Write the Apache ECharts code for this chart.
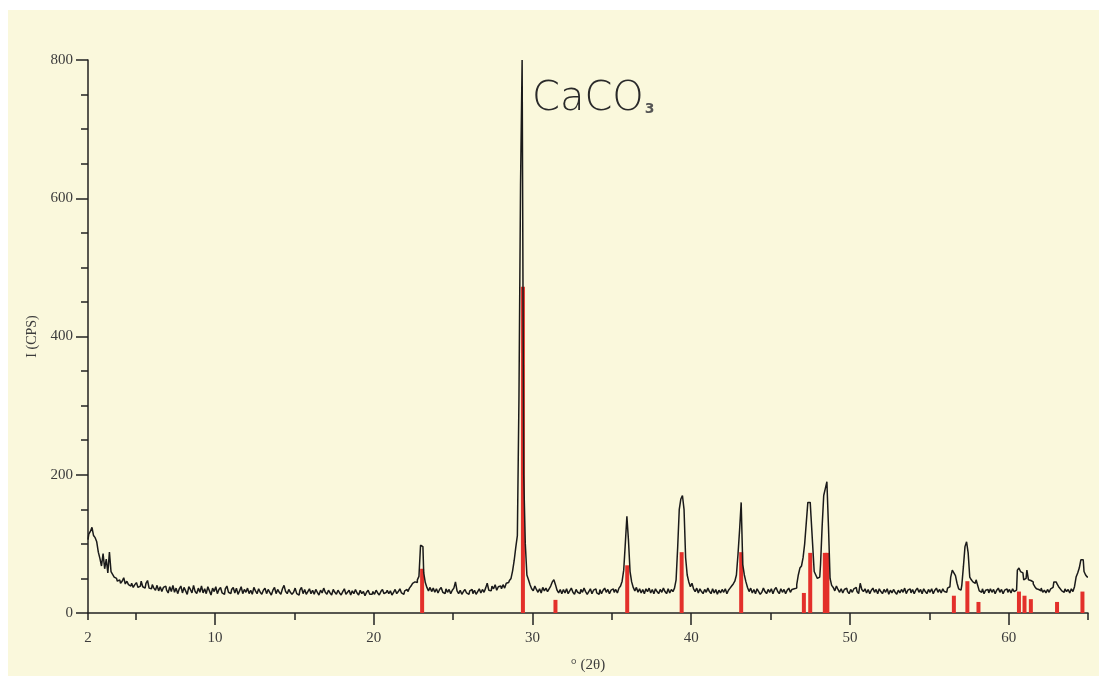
<!DOCTYPE html>
<html>
<head>
<meta charset="utf-8">
<title>CaCO3 XRD</title>
<script src="https://cdn.jsdelivr.net/npm/echarts@6/dist/echarts.min.js"></script>
<style>
  html, body { margin: 0; padding: 0; background: #ffffff; }
  #chart { width: 1107px; height: 682px; }
</style>
</head>
<body>
<div id="chart"></div>
<script>
// scan: 2.0 .. 65.0 deg 2theta, step 0.1
const scanStart = 2.0;
const scanStep = 0.1;
const intensity = [
  106, 114, 118, 124, 112, 109, 103, 88, 79, 68,   // 2
  86, 64, 78, 58, 88, 60, 56, 52, 50, 46,          // 3
  48, 43, 46, 51, 42, 46, 41, 39, 43, 37,          // 4
  41, 44, 37, 39, 46, 38, 36, 43, 47, 36,          // 5
  35, 41, 36, 33, 40, 32, 38, 31, 37, 39,          // 6
  33, 29, 38, 31, 40, 30, 36, 28, 35, 39,          // 7
  29, 37, 32, 27, 38, 34, 29, 40, 31, 28,          // 8
  36, 30, 39, 29, 35, 28, 38, 32, 26, 36,          // 9
  31, 38, 28, 34, 37, 29, 27, 35, 39, 30,          // 10
  28, 34, 37, 29, 36, 27, 32, 38, 28, 34,          // 11
  30, 36, 28, 33, 27, 37, 32, 28, 35, 30,          // 12
  27, 33, 36, 28, 34, 30, 26, 33, 37, 28,          // 13
  34, 30, 27, 35, 40, 31, 28, 34, 30, 27,          // 14
  30, 36, 28, 26, 33, 37, 28, 34, 27, 31,          // 15
  35, 28, 33, 27, 34, 30, 26, 33, 29, 36,          // 16
  30, 27, 33, 29, 26, 34, 30, 27, 33, 29,          // 17
  26, 31, 35, 27, 30, 33, 26, 32, 28, 34,          // 18
  29, 26, 33, 28, 31, 25, 30, 33, 27, 27,          // 19
  31, 27, 33, 29, 26, 31, 34, 28, 30, 33,          // 20
  28, 32, 26, 30, 34, 28, 31, 35, 29, 27,          // 21
  32, 34, 31, 36, 39, 43, 45, 44, 48, 53,          // 22
  98, 96, 58, 44, 37, 32, 37, 31, 36, 30,          // 23
  35, 29, 34, 37, 30, 28, 35, 30, 34, 28,          // 24
  33, 36, 45, 32, 28, 33, 27, 31, 34, 29,          // 25
  27, 32, 34, 28, 33, 27, 31, 35, 29, 34,          // 26
  30, 36, 43, 33, 32, 39, 35, 41, 33, 38,          // 27
  39, 35, 41, 36, 43, 44, 47, 50, 61, 76,          // 28
  95, 112, 310, 620, 800, 200, 100, 55, 48, 41,    // 29
  35, 32, 39, 34, 30, 35, 29, 37, 32, 36,          // 30
  31, 35, 39, 45, 48, 41, 33, 29, 34, 28,          // 31
  34, 29, 35, 28, 32, 36, 30, 27, 34, 30,          // 32
  28, 34, 30, 36, 31, 27, 31, 35, 28, 33,          // 33
  35, 29, 27, 34, 28, 33, 36, 30, 34, 28,          // 34
  33, 35, 30, 34, 29, 36, 39, 46, 62, 100,         // 35
  140, 105, 60, 45, 37, 32, 37, 30, 35, 29,        // 36
  34, 28, 35, 31, 36, 29, 34, 28, 35, 31,          // 37
  28, 34, 30, 36, 31, 28, 35, 29, 34, 31,          // 38
  36, 48, 95, 150, 165, 170, 150, 80, 55, 45,      // 39
  38, 43, 35, 31, 36, 29, 35, 31, 28, 34,          // 40
  30, 36, 31, 28, 35, 29, 34, 27, 33, 29,          // 41
  34, 30, 35, 28, 33, 36, 39, 42, 46, 55,          // 42
  85, 120, 160, 70, 55, 45, 37, 31, 36, 29,        // 43
  34, 28, 35, 31, 27, 30, 36, 31, 28, 34,          // 44
  30, 35, 28, 34, 37, 31, 28, 35, 30, 34,          // 45
  28, 33, 36, 30, 34, 35, 36, 41, 55, 65,          // 46
  68, 80, 100, 130, 160, 160, 140, 100, 60, 55,    // 47
  50, 52, 70, 125, 170, 180, 190, 125, 50, 40,     // 48
  37, 32, 39, 34, 30, 35, 29, 34, 36, 31,          // 49
  28, 34, 30, 35, 37, 31, 28, 43, 34, 31,          // 50
  35, 29, 34, 28, 33, 36, 30, 34, 28, 35,          // 51
  31, 28, 34, 30, 35, 27, 33, 29, 34, 30,          // 52
  27, 33, 29, 34, 30, 36, 28, 33, 35, 29,          // 53
  34, 28, 33, 36, 30, 34, 28, 35, 31, 28,          // 54
  34, 30, 35, 28, 33, 36, 30, 34, 29, 35,          // 55
  31, 30, 36, 38, 52, 62, 58, 54, 43, 35,          // 56
  33, 40, 67, 96, 103, 87, 52, 48, 45, 43,         // 57
  48, 40, 32, 30, 35, 28, 33, 34, 29, 35,          // 58
  30, 34, 28, 33, 36, 30, 34, 28, 33, 35,          // 59
  30, 34, 29, 35, 31, 33, 62, 65, 60, 58,          // 60
  48, 50, 62, 48, 47, 45, 42, 38, 35, 34,          // 61
  32, 36, 30, 33, 29, 34, 30, 35, 37, 45,          // 62
  45, 42, 38, 35, 32, 30, 35, 31, 34, 29,          // 63
  35, 31, 38, 52, 58, 65, 77, 77, 60, 55,          // 64
  52                                               // 65
];

// CaCO3 (calcite) reference lines
const refAngle = [23.05, 29.4, 31.45, 35.97, 39.4, 43.15, 47.1, 47.5, 48.42, 48.58,
  56.55, 57.4, 58.1, 60.65, 61.0, 61.4, 63.05, 64.65];
const refHeight = [64, 472, 19, 69, 88, 88, 29, 87, 87, 87,
  25, 46, 16, 31, 25, 20, 16, 31];

const xMajorTicks = [10, 20, 30, 40, 50, 60];
const xMinorTicks = [2, 5, 15, 25, 35, 45, 55, 65];
const xLabels = [2, 10, 20, 30, 40, 50, 60];

const lineData = intensity.map((v, i) => [+(scanStart + i * scanStep).toFixed(1), v]);
const refData = refAngle.map((a, i) => [a, refHeight[i]]);

const labelFont = {
  fontFamily: 'Liberation Serif',
  fontSize: 15,
  color: '#3c3c3c'
};

const chart = echarts.init(document.getElementById('chart'));
chart.setOption({
  backgroundColor: '#ffffff',
  animation: false,
  graphic: [{
    type: 'rect',
    z: -10,
    shape: { x: 8, y: 10, width: 1091, height: 666 },
    style: { fill: '#FAF8DC' }
  }],
  title: {
    text: '{m|CaCO}{s|3}',
    left: 527,
    top: 72,
    textStyle: {
      rich: {
        m: { fontFamily: 'DejaVu Sans', fontSize: 40, fontWeight: 300, color: '#2a2a2a', lineHeight: 46 },
        s: { fontFamily: 'DejaVu Sans', fontSize: 14, color: '#555', verticalAlign: 'bottom', padding: [0, 0, 7, 1] }
      }
    }
  },
  grid: { left: 88, right: 19, top: 60, bottom: 69 },
  xAxis: [{
    type: 'value',
    min: 2,
    max: 65,
    position: 'bottom',
    name: '° (2θ)',
    nameLocation: 'middle',
    nameGap: 45,
    nameTextStyle: labelFont,
    axisLine: { lineStyle: { color: '#222', width: 1.5 } },
    axisTick: { customValues: xMajorTicks, length: 12, lineStyle: { color: '#222', width: 1.5 } },
    axisLabel: Object.assign({ customValues: xLabels, margin: 18 }, labelFont),
    splitLine: { show: false }
  }, {
    type: 'value',
    min: 2,
    max: 65,
    position: 'bottom',
    axisLine: { show: false },
    axisTick: { customValues: xMinorTicks, length: 7, lineStyle: { color: '#222', width: 1.5 } },
    axisLabel: { show: false },
    splitLine: { show: false }
  }],
  yAxis: {
    type: 'value',
    min: 0,
    max: 800,
    interval: 200,
    name: 'I (CPS)',
    nameLocation: 'middle',
    nameGap: 40,
    nameTextStyle: Object.assign({}, labelFont, { fontSize: 14 }),
    axisLine: { show: true, lineStyle: { color: '#222', width: 1.5 } },
    axisTick: { show: true, length: 12, lineStyle: { color: '#222', width: 1.5 } },
    minorTick: { show: true, splitNumber: 4, length: 7, lineStyle: { color: '#222', width: 1.5 } },
    axisLabel: Object.assign({ margin: 15 }, labelFont),
    splitLine: { show: false }
  },
  series: [{
    name: 'CaCO3 ref',
    type: 'custom',
    z: 2,
    data: refData,
    renderItem: (params, api) => {
      const base = api.coord([api.value(0), 0]);
      const top = api.coord([api.value(0), api.value(1)]);
      return {
        type: 'rect',
        shape: { x: top[0] - 2, y: top[1], width: 4, height: base[1] - top[1] },
        style: { fill: '#E3302A' }
      };
    }
  }, {
    name: 'pattern',
    type: 'line',
    z: 3,
    step: 'middle',
    showSymbol: false,
    data: lineData,
    lineStyle: { color: '#1a1a1a', width: 1.5 }
  }]
});
</script>
</body>
</html>
